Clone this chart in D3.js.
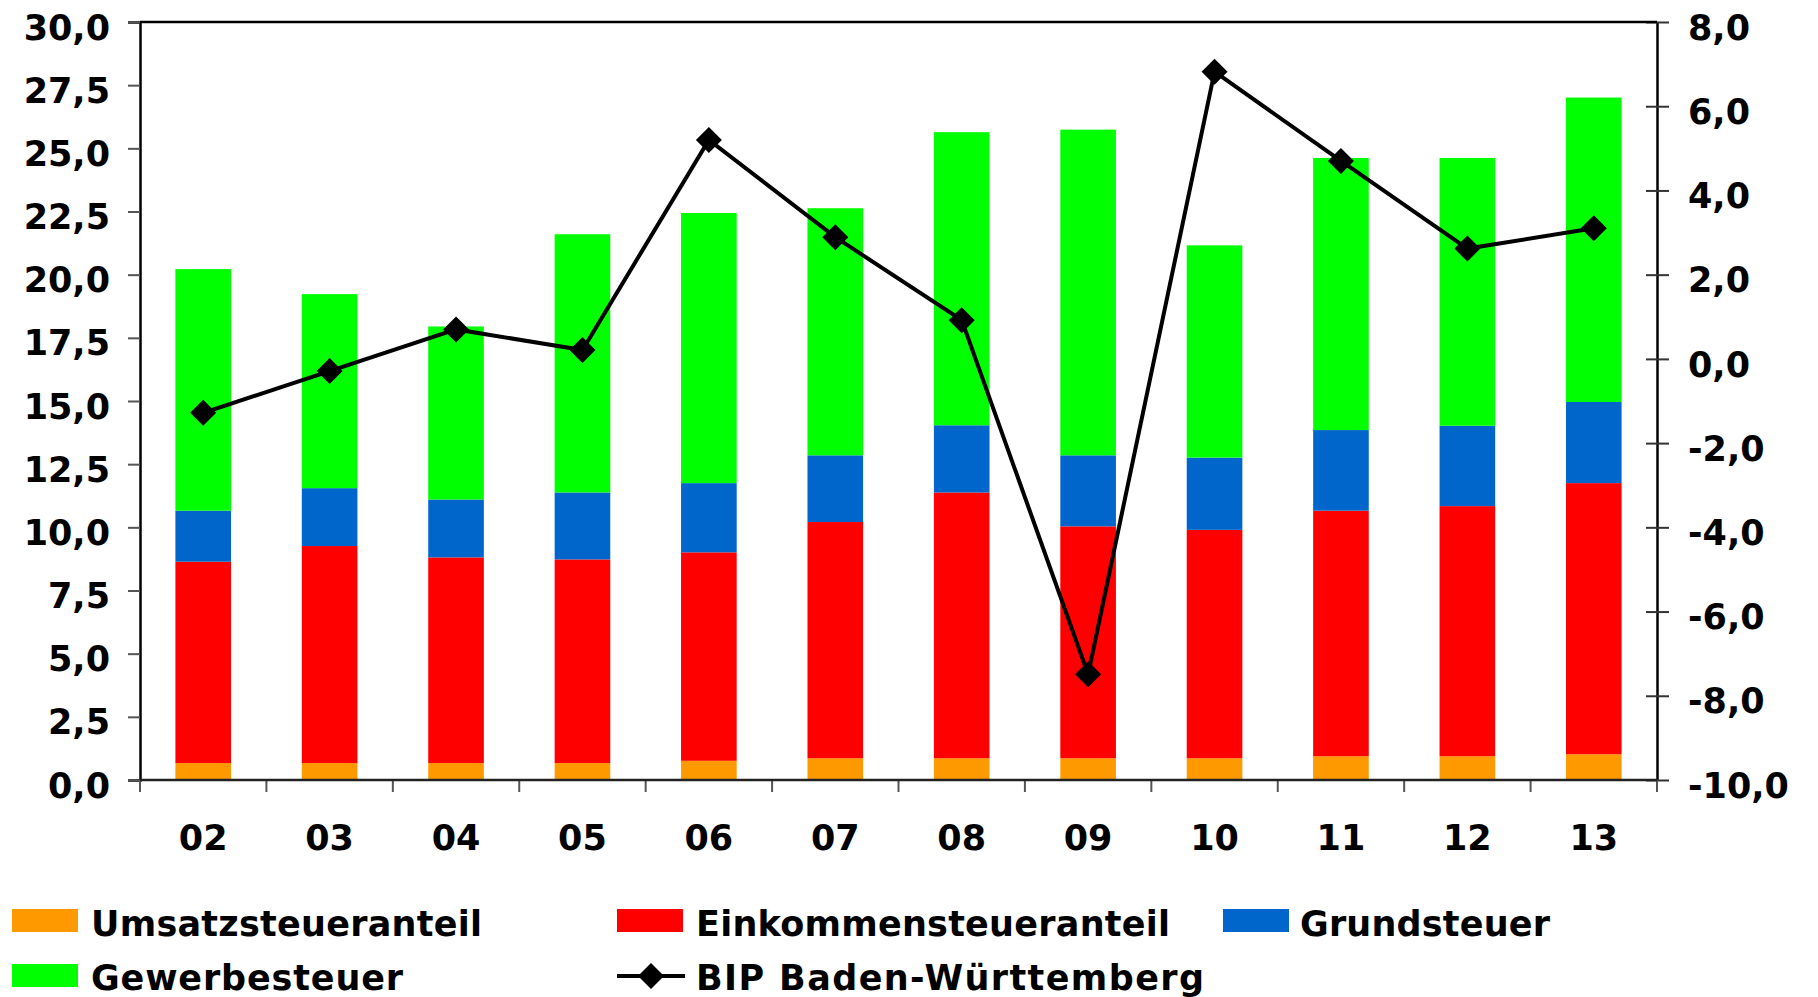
<!DOCTYPE html>
<html>
<head>
<meta charset="utf-8">
<script src="https://cdn.jsdelivr.net/npm/d3@7"></script>
<style>
  html, body { margin: 0; padding: 0; background: #fff; }
  svg { display: block; }
  text { font-family: "DejaVu Sans", Verdana, sans-serif; font-weight: bold; fill: #000; }
</style>
</head>
<body>
<svg id="chart" width="1818" height="997"></svg>
<script>
const years = ["02","03","04","05","06","07","08","09","10","11","12","13"];
const umsatz = [0.67,0.67,0.67,0.67,0.76,0.86,0.86,0.86,0.86,0.94,0.94,1.02];
const einkommen = [7.97,8.59,8.14,8.06,8.25,9.35,10.52,9.18,9.04,9.72,9.90,10.73];
const grund = [2.02,2.29,2.29,2.65,2.74,2.64,2.66,2.81,2.86,3.19,3.18,3.21];
const gewerbe = [9.56,7.68,6.85,10.22,10.69,9.78,11.60,12.89,8.40,10.77,10.60,12.05];
const bip = [-1.28,-0.29,0.70,0.21,5.20,2.89,0.92,-7.49,6.82,4.70,2.62,3.10];
const leftTicks = [0,2.5,5,7.5,10,12.5,15,17.5,20,22.5,25,27.5,30];
const rightTicks = [-10,-8,-6,-4,-2,0,2,4,6,8];
const seriesNames = ["Umsatzsteueranteil","Einkommensteueranteil","Grundsteuer","Gewerbesteuer"];
const lineName = "BIP Baden-Württemberg";
const colors = ["#FF9900","#FF0000","#0066CC","#00FF00"];

const svg = d3.select("#chart");
const L = 140, R = 1657, T = 22, B = 780;

const loc = d3.formatLocale({decimal: ",", thousands: ".", grouping: [3], currency: ["", "€"], minus: "-"});
const fmt = loc.format(".1f");

const x = d3.scaleBand().domain(years).range([L, R]).paddingInner(0.56).paddingOuter(0.28);
const y = d3.scaleLinear().domain([0, 30]).range([B, T]);
const y2 = d3.scaleLinear().domain([-10, 8]).range([B, T]);

const rows = years.map((yr, i) => ({year: yr, s0: umsatz[i], s1: einkommen[i], s2: grund[i], s3: gewerbe[i]}));
const stack = d3.stack().keys(["s0","s1","s2","s3"])(rows);

svg.append("g").selectAll("g").data(stack).join("g")
  .attr("fill", (d, i) => colors[i])
  .selectAll("rect").data(d => d).join("rect")
  .attr("x", d => x(d.data.year))
  .attr("width", x.bandwidth())
  .attr("y", d => y(d[1]))
  .attr("height", d => y(d[0]) - y(d[1]));

// left axis
const gl = svg.append("g").attr("transform", `translate(${L},0)`)
  .call(d3.axisLeft(y).tickValues(leftTicks).tickFormat(fmt).tickSize(12).tickPadding(18));
gl.select(".domain").attr("stroke", "#000").attr("stroke-width", 2.5);
gl.selectAll(".tick line").attr("stroke", "#555").attr("stroke-width", 2);
gl.selectAll(".tick text").attr("font-size", 35).attr("dy", "0.49em")
  .attr("font-family", "DejaVu Sans").attr("font-weight", "bold").attr("fill", "#000");

// right axis
const gr = svg.append("g").attr("transform", `translate(${R},0)`)
  .call(d3.axisRight(y2).tickValues(rightTicks).tickFormat(fmt).tickSizeInner(12).tickSizeOuter(0).tickPadding(19));
gr.select(".domain").attr("stroke", "#000").attr("stroke-width", 2.5);
gr.selectAll(".tick line").attr("x1", -11).attr("stroke", "#333").attr("stroke-width", 2);
gr.selectAll(".tick text").attr("font-size", 35).attr("dy", "0.49em")
  .attr("font-family", "DejaVu Sans").attr("font-weight", "bold").attr("fill", "#000");

// top border
svg.append("line").attr("x1", L).attr("x2", R).attr("y1", T).attr("y2", T)
  .attr("stroke", "#000").attr("stroke-width", 2.5);

// bottom axis with boundary ticks
const bounds = d3.range(years.length + 1).map(i => L + i * x.step());
svg.append("g").selectAll("line").data(bounds).join("line")
  .attr("x1", d => d).attr("x2", d => d).attr("y1", B).attr("y2", B + 12)
  .attr("stroke", "#555").attr("stroke-width", 2);
svg.append("line").attr("x1", L).attr("x2", R).attr("y1", B).attr("y2", B)
  .attr("stroke", "#222").attr("stroke-width", 2.5);
svg.append("g").selectAll("text").data(years).join("text")
  .attr("x", d => x(d) + x.bandwidth() / 2).attr("y", 850)
  .attr("text-anchor", "middle").attr("font-size", 35).text(d => d);

// line
const cx = i => x(years[i]) + x.bandwidth() / 2;
const line = d3.line().x((d, i) => cx(i)).y(d => y2(d));
svg.append("path").datum(bip).attr("d", line)
  .attr("fill", "none").attr("stroke", "#000").attr("stroke-width", 4).attr("stroke-linejoin", "miter");
const diamond = "M0,-13L13,0L0,13L-13,0Z";
svg.append("g").selectAll("path").data(bip).join("path")
  .attr("d", diamond)
  .attr("transform", (d, i) => `translate(${cx(i)},${y2(d)})`)
  .attr("fill", "#000");

// legend
const legendItems = [
  {name: seriesNames[0], color: colors[0], sx: 12, tx: 91, row: 0, len: 391},
  {name: seriesNames[1], color: colors[1], sx: 617, tx: 696, row: 0, len: 474},
  {name: seriesNames[2], color: colors[2], sx: 1223, tx: 1300, row: 0, len: 250},
  {name: seriesNames[3], color: colors[3], sx: 12, tx: 91, row: 1, len: 312}
];
const rowTop = [909, 964];
const rowBase = [936, 990];
const lg = svg.append("g");
legendItems.forEach(it => {
  lg.append("rect").attr("x", it.sx).attr("y", rowTop[it.row]).attr("width", 66).attr("height", 23).attr("fill", it.color);
  lg.append("text").attr("x", it.tx).attr("y", rowBase[it.row]).attr("font-size", 35)
    .attr("textLength", it.len).attr("lengthAdjust", "spacing").text(it.name);
});
lg.append("line").attr("x1", 617).attr("x2", 685).attr("y1", 976).attr("y2", 976)
  .attr("stroke", "#000").attr("stroke-width", 4);
lg.append("path").attr("d", diamond).attr("transform", "translate(651,976)").attr("fill", "#000");
lg.append("text").attr("x", 696).attr("y", rowBase[1]).attr("font-size", 35)
  .attr("textLength", 508).attr("lengthAdjust", "spacing").text(lineName);
</script>
</body>
</html>
